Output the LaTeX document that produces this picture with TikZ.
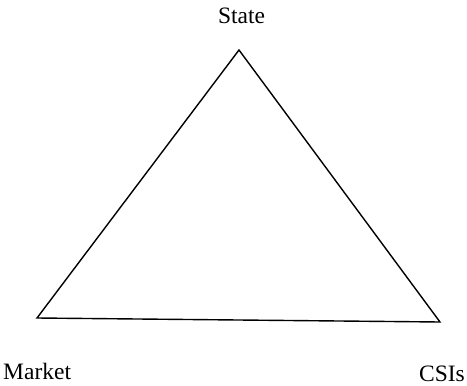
\documentclass[tikz,border=0pt]{standalone}
\usepackage{fontspec}
\setmainfont{Liberation Serif}
\begin{document}
\begin{tikzpicture}[x=1pt,y=-1pt,
  lbl/.style={inner sep=0pt,font=\fontsize{23.5}{26}\selectfont},
  edge/.style={line width=1.4pt,line join=miter}]
\useasboundingbox (0,0) rectangle (467,386);
\coordinate (S) at (239,50);
\coordinate (M) at (37,318);
\coordinate (C) at (440,322);
\draw[edge] (S) -- (M) -- (C) -- cycle;
\node[lbl,anchor=base] (st) at (241.5,23) {State};
\node[lbl,anchor=base west] (mk) at (3,379) {Market};
\node[lbl,anchor=base east] (cs) at (465,381) {CSIs};
\end{tikzpicture}
\end{document}
